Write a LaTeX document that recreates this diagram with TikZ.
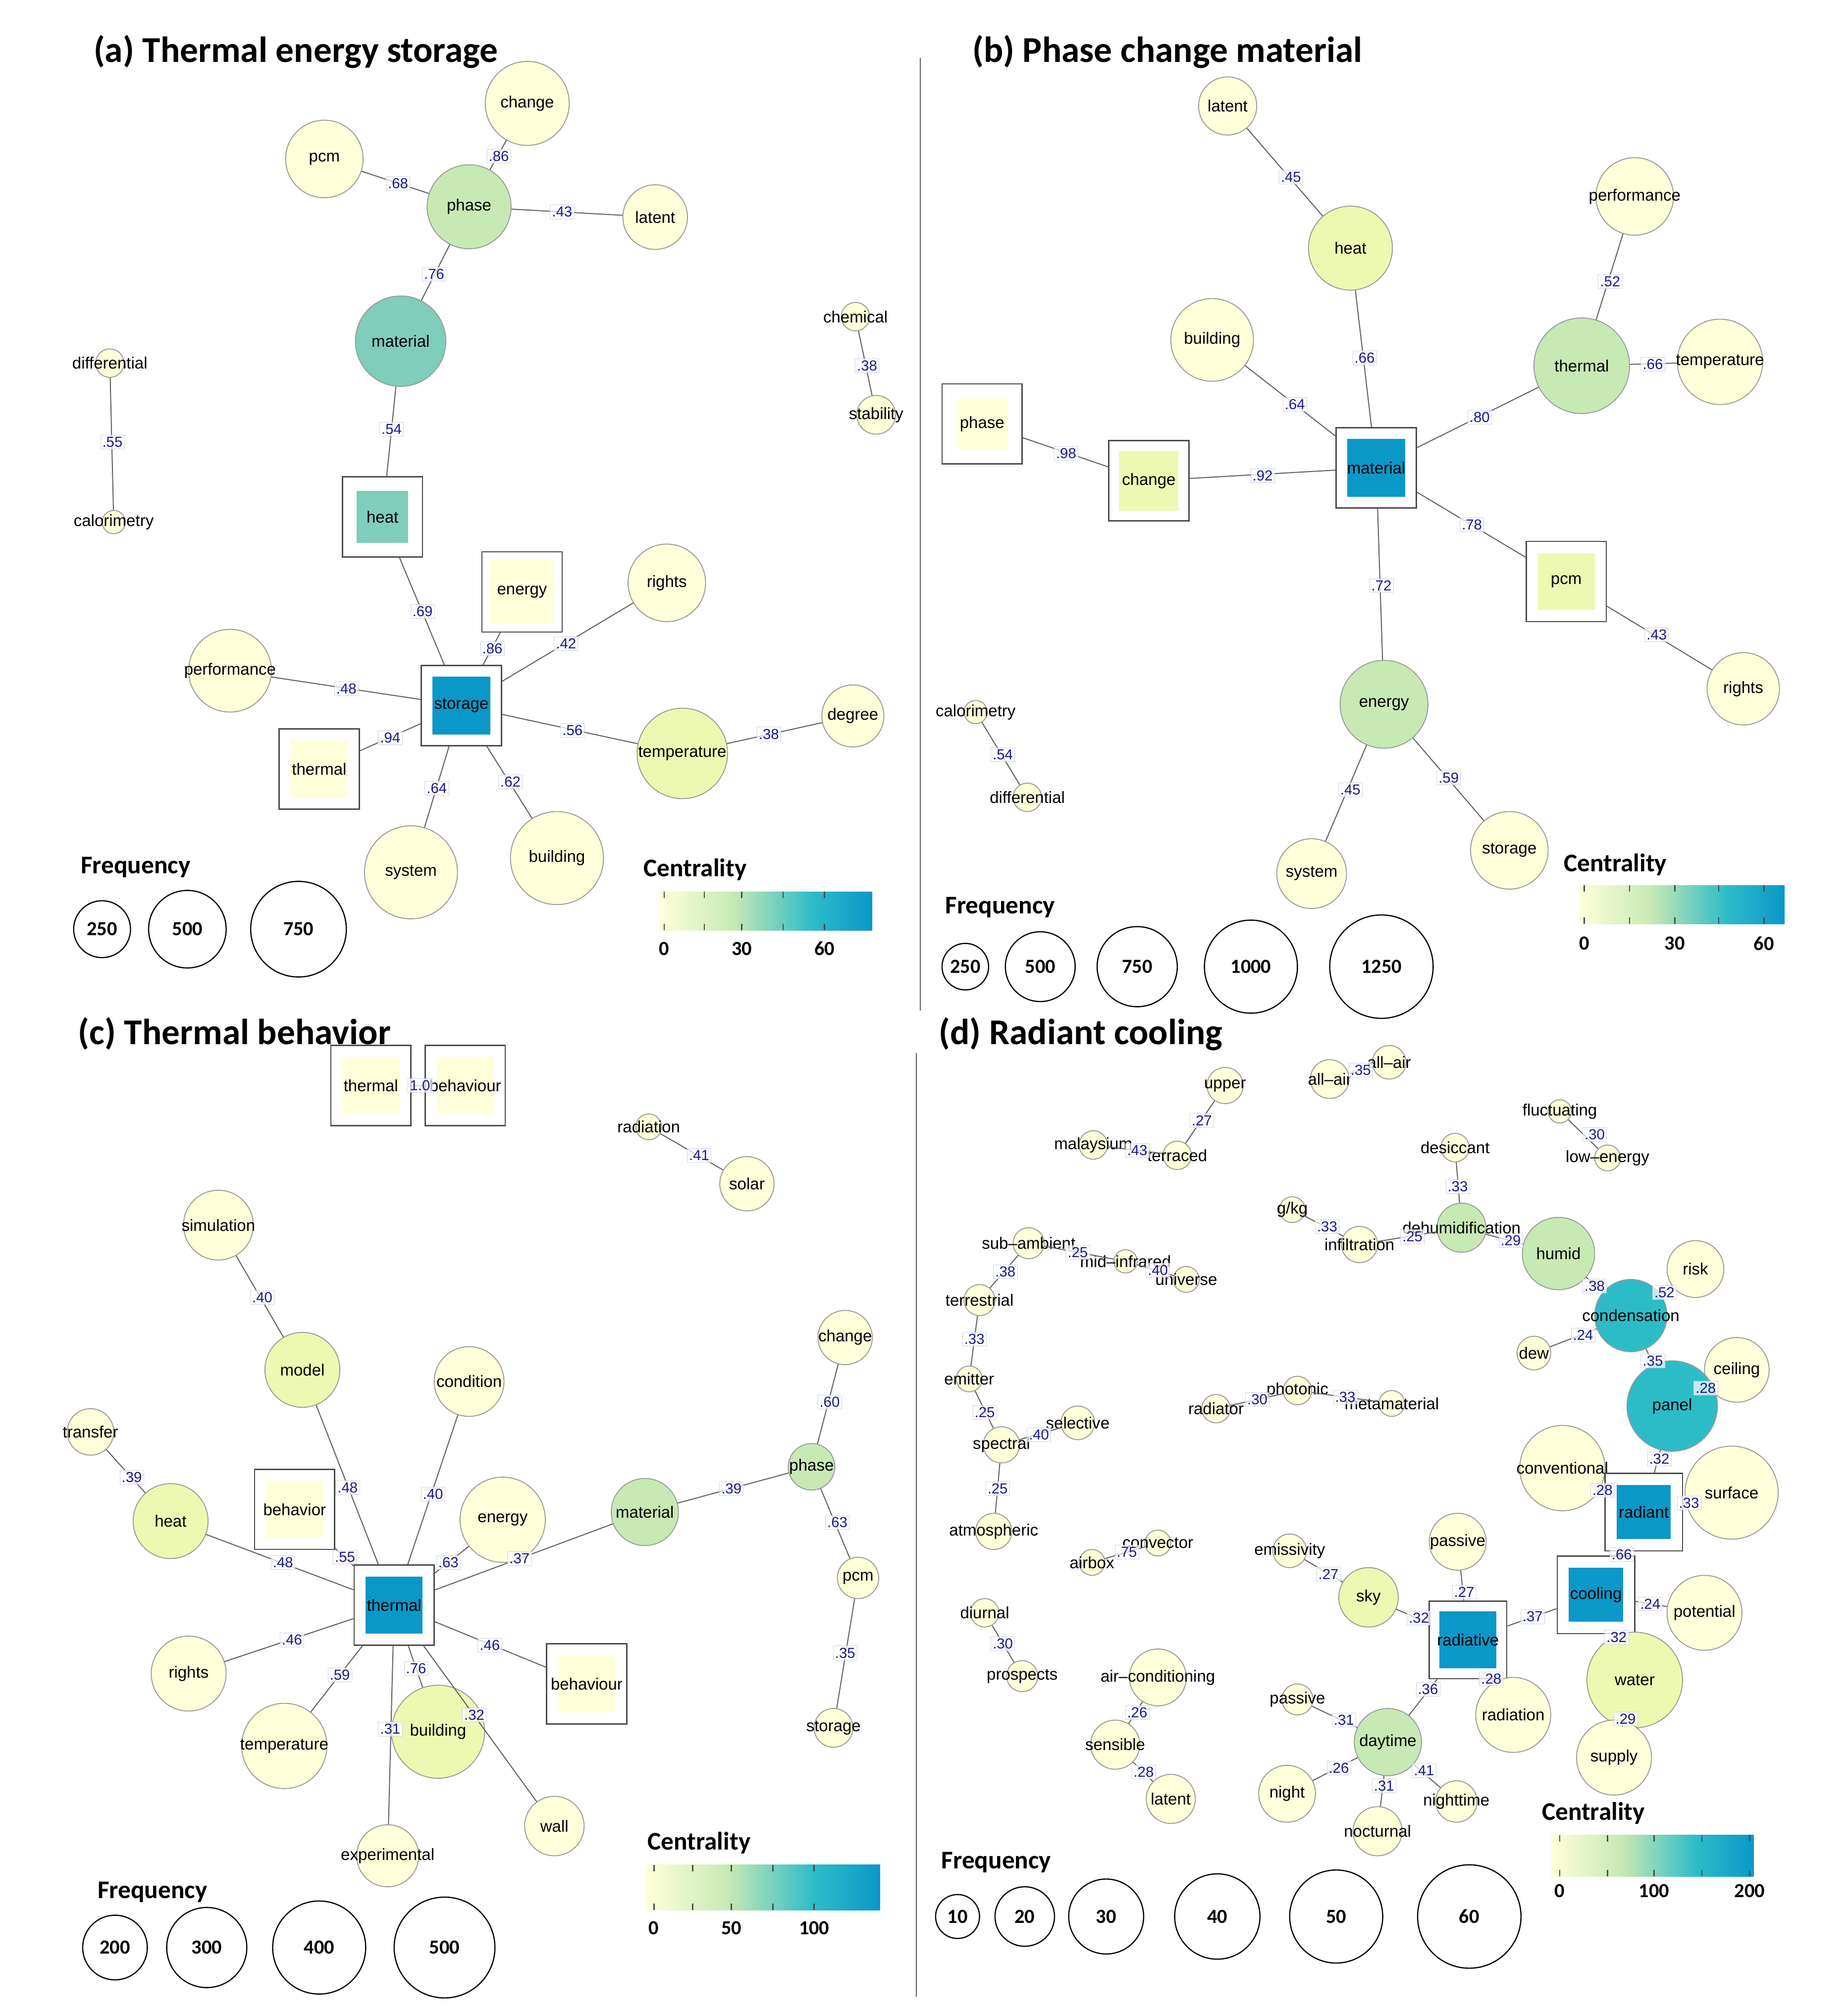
\documentclass[tikz,border=0pt]{standalone}
\usepackage{fontspec}
\setmainfont{Liberation Sans}
\newfontfamily\tfont{Carlito}
\definecolor{c0}{HTML}{FFFFD9}
\definecolor{c1}{HTML}{EDF8B1}
\definecolor{c2}{HTML}{C7E9B4}
\definecolor{c3}{HTML}{7FCDBB}
\definecolor{c4}{HTML}{2CBCC8}
\definecolor{c5}{HTML}{0A98C8}
\definecolor{navy}{HTML}{1A1A8C}
\tikzset{
 cn/.style={circle,draw=gray!80,line width=1pt,inner sep=0pt},
 lab/.style={font=\fontsize{18}{18}\selectfont,inner sep=0pt},
 elab/.style={draw=navy!20,fill=white,fill opacity=0.7,text opacity=1,font=\fontsize{16}{16}\selectfont,text=navy,inner sep=2pt},
 edge/.style={draw=gray!75!black,line width=1.1pt},
 sqo/.style={rectangle,draw=gray!60!black,line width=1.4pt,fill=white,inner sep=0pt},
 sqi/.style={rectangle,inner sep=0pt},
 ttl/.style={font=\tfont\bfseries\fontsize{40}{40}\selectfont,anchor=west},
 lgt/.style={font=\tfont\bfseries\fontsize{28}{28}\selectfont},
 lgn/.style={font=\tfont\bfseries\fontsize{22}{22}\selectfont},
 lgc/.style={circle,draw=black,line width=1.3pt,inner sep=0pt},
}
\newcommand\cnp[6]{\node[cn,minimum size=#4*0.05cm,fill=#5] (#1) at (#2,#3) {};\node[lab] at (#1) {#6};}
\newcommand\sqn[7]{\node[sqo,minimum size=#5*0.05cm] (#1) at (#2,#3) {};\node[sqi,fill=#6,minimum size=#4*0.05cm] at (#1) {};\node[lab] at (#1) {#7};}
\newcommand\el[3]{\node[elab] at (#1,#2) {#3};}
\newcommand\ed[2]{\draw[edge] (#1) -- (#2);}
\newcommand\cbar[5]{% x1 x2 y1 y2 ; #5 unused
 \pgfmathsetmacro\xa{#1+0.35*(#2-#1)}\pgfmathsetmacro\xb{#1+0.72*(#2-#1)}
 \shade[left color=c0,right color=c2] (#1,#3) rectangle (\xa,#4);
 \shade[left color=c2,right color=c4] (\xa,#3) rectangle (\xb,#4);
 \shade[left color=c4,right color=c5] (\xb,#3) rectangle (#2,#4);}
\begin{document}
\begin{tikzpicture}[x=0.05cm,y=-0.05cm]
\useasboundingbox (0,0) rectangle (1430,1560);
\fill[white] (0,0) rectangle (1430,1560);
\draw[gray!70!black,line width=1.2pt] (712,45) -- (712,782);
\draw[gray!70!black,line width=1.2pt] (709,815) -- (709,1545);
% ===== (a)
\node[ttl] at (70,40) {(a) Thermal energy storage};
\cnp{achange}{408}{80}{65}{c0}{change}
\cnp{apcm}{251}{123}{60}{c0}{pcm}
\cnp{aphase}{363}{160}{65}{c2}{phase}
\cnp{alatent}{507}{168}{50}{c0}{latent}
\cnp{amaterial}{310}{264}{70}{c3}{material}
\cnp{achem}{662}{245}{22}{c0}{chemical}
\cnp{astab}{678}{321}{30}{c0}{stability}
\cnp{adiff}{85}{281}{22}{c0}{differential}
\cnp{acal}{88}{404}{18}{c0}{calorimetry}
\sqn{aheat}{296}{400}{40}{62}{c3}{heat}
\sqn{aenergy}{404}{458}{50}{62}{c0}{energy}
\cnp{arights}{516}{451}{60}{c0}{rights}
\cnp{aperf}{178}{519}{64}{c0}{performance}
\sqn{astorage}{357}{546}{45}{62}{c5}{storage}
\sqn{athermal}{247}{595}{45}{62}{c0}{thermal}
\cnp{atemp}{528}{583}{70}{c1}{temperature}
\cnp{adegree}{660}{554}{48}{c0}{degree}
\cnp{asystem}{318}{675}{72}{c0}{system}
\cnp{abuild}{431}{664}{72}{c0}{building}
\ed{apcm}{aphase}\ed{achange}{aphase}\ed{aphase}{alatent}\ed{aphase}{amaterial}
\ed{amaterial}{aheat}\ed{aheat}{astorage}\ed{aenergy}{astorage}\ed{arights}{astorage}
\ed{aperf}{astorage}\ed{athermal}{astorage}\ed{astorage}{atemp}\ed{atemp}{adegree}
\ed{astorage}{asystem}\ed{astorage}{abuild}\ed{achem}{astab}\ed{adiff}{acal}
\el{308}{142}{.68}\el{386}{121}{.86}\el{435}{164}{.43}\el{336}{212}{.76}
\el{303}{332}{.54}\el{327}{473}{.69}\el{381}{502}{.86}\el{438}{498}{.42}
\el{268}{533}{.48}\el{302}{571}{.94}\el{443}{565}{.56}\el{595}{568}{.38}
\el{338}{610}{.64}\el{395}{605}{.62}\el{671}{283}{.38}\el{87}{342}{.55}
\node[lgt] at (105,671) {Frequency};
\node[lgc,minimum size=44*0.05cm,lgn] at (79,719) {250};
\node[lgc,minimum size=60*0.05cm,lgn] at (145,719) {500};
\node[lgc,minimum size=74*0.05cm,lgn] at (231,719) {750};
\node[lgt] at (538,673) {Centrality};
\cbar{510}{675}{690}{720}{}
\foreach \t in {514,545,574,606,638}{\draw[gray!60!black,line width=1.5pt] (\t,690)--(\t,695) (\t,715)--(\t,720);}
\node[lgn] at (514,734) {0};\node[lgn] at (574,734) {30};\node[lgn] at (638,734) {60};
% ===== (b)
\node[ttl] at (750,40) {(b) Phase change material};
\cnp{blatent}{950}{82}{45}{c0}{latent}
\cnp{bheat}{1045}{192}{65}{c1}{heat}
\cnp{bperf}{1265}{152}{60}{c0}{performance}
\cnp{bbuild}{938}{263}{64}{c0}{building}
\cnp{bthermal}{1224}{283}{74}{c2}{thermal}
\cnp{btemp}{1331}{280}{66}{c0}{temperature}
\sqn{bphase}{760}{328}{40}{62}{c0}{phase}
\sqn{bchange}{889}{372}{46}{62}{c1}{change}
\sqn{bmaterial}{1065}{362}{45}{62}{c5}{material}
\sqn{bpcm}{1212}{450}{44}{62}{c1}{pcm}
\cnp{brights}{1349}{533}{56}{c0}{rights}
\cnp{bcal}{755}{551}{18}{c0}{calorimetry}
\cnp{bdiff}{795}{617}{22}{c0}{differential}
\cnp{benergy}{1071}{545}{68}{c2}{energy}
\cnp{bsystem}{1015}{676}{54}{c0}{system}
\cnp{bstorage}{1168}{658}{60}{c0}{storage}
\ed{blatent}{bheat}\ed{bheat}{bmaterial}\ed{bbuild}{bmaterial}\ed{bthermal}{bmaterial}
\ed{bperf}{bthermal}\ed{bthermal}{btemp}\ed{bphase}{bchange}\ed{bchange}{bmaterial}
\ed{bmaterial}{bpcm}\ed{bpcm}{brights}\ed{bmaterial}{benergy}\ed{benergy}{bsystem}
\ed{benergy}{bstorage}\ed{bcal}{bdiff}
\el{999}{137}{.45}\el{1056}{277}{.66}\el{1002}{313}{.64}\el{1145}{323}{.80}
\el{1246}{218}{.52}\el{1279}{282}{.66}\el{825}{351}{.98}\el{977}{368}{.92}
\el{1139}{406}{.78}\el{1282}{491}{.43}\el{1069}{453}{.72}\el{1045}{611}{.45}
\el{1121}{602}{.59}\el{776}{584}{.54}
\node[lgt] at (774,702) {Frequency};
\node[lgc,minimum size=36*0.05cm,lgn] at (747,748) {250};
\node[lgc,minimum size=54*0.05cm,lgn] at (805,748) {500};
\node[lgc,minimum size=62*0.05cm,lgn] at (880,748) {750};
\node[lgc,minimum size=72*0.05cm,lgn] at (968,748) {1000};
\node[lgc,minimum size=80*0.05cm,lgn] at (1069,748) {1250};
\node[lgt] at (1250,669) {Centrality};
\cbar{1222}{1381}{685}{715}{}
\foreach \t in {1226,1261,1296,1330,1365}{\draw[gray!60!black,line width=1.5pt] (\t,685)--(\t,690) (\t,710)--(\t,715);}
\node[lgn] at (1226,730) {0};\node[lgn] at (1296,730) {30};\node[lgn] at (1365,730) {60};
% ===== (c)
\node[ttl] at (58,800) {(c) Thermal behavior};
\sqn{cth1}{287}{840}{44}{62}{c0}{thermal}
\sqn{cbeh1}{360}{840}{44}{62}{c0}{behaviour}
\cnp{crad}{502}{872}{20}{c0}{radiation}
\cnp{csolar}{578}{916}{42}{c0}{solar}
\cnp{csim}{169}{948}{54}{c0}{simulation}
\cnp{cmodel}{234}{1060}{58}{c1}{model}
\cnp{ccond}{363}{1069}{54}{c0}{condition}
\cnp{cchange}{654}{1035}{42}{c0}{change}
\cnp{cphase}{628}{1135}{36}{c2}{phase}
\cnp{ctrans}{70}{1108}{36}{c0}{transfer}
\cnp{cheat}{132}{1177}{58}{c1}{heat}
\sqn{cbehav}{228}{1168}{44}{62}{c0}{behavior}
\cnp{cenergy}{389}{1176}{66}{c0}{energy}
\cnp{cmat}{499}{1170}{52}{c2}{material}
\cnp{cpcm}{664}{1221}{32}{c0}{pcm}
\sqn{cthermal}{305}{1242}{44}{62}{c5}{thermal}
\sqn{cbeh2}{454}{1303}{44}{62}{c0}{behaviour}
\cnp{crights}{146}{1295}{58}{c0}{rights}
\cnp{ctemp}{220}{1351}{66}{c0}{temperature}
\cnp{cbuild}{339}{1340}{72}{c1}{building}
\cnp{cwall}{429}{1413}{46}{c0}{wall}
\cnp{cexp}{300}{1436}{48}{c0}{experimental}
\cnp{cstor}{645}{1337}{30}{c0}{storage}
\ed{cth1}{cbeh1}\ed{crad}{csolar}\ed{csim}{cmodel}\ed{cchange}{cphase}\ed{ctrans}{cheat}
\ed{cphase}{cpcm}\ed{cpcm}{cstor}\ed{cmat}{cphase}
\ed{cthermal}{cmodel}\ed{cthermal}{ccond}\ed{cthermal}{cheat}\ed{cthermal}{cbehav}
\ed{cthermal}{cenergy}\ed{cthermal}{cmat}\ed{cthermal}{cbeh2}\ed{cthermal}{crights}
\ed{cthermal}{ctemp}\ed{cthermal}{cbuild}\ed{cthermal}{cexp}\ed{cthermal}{cwall}
\el{325}{840}{1.0}\el{541}{894}{.41}\el{203}{1004}{.40}\el{642}{1085}{.60}
\el{102}{1143}{.39}\el{648}{1178}{.63}\el{654}{1279}{.35}\el{566}{1152}{.39}
\el{269}{1151}{.48}\el{335}{1156}{.40}\el{219}{1209}{.48}\el{267}{1205}{.55}
\el{347}{1209}{.63}\el{402}{1206}{.37}\el{379}{1273}{.46}\el{226}{1269}{.46}
\el{263}{1296}{.59}\el{322}{1291}{.76}\el{302}{1338}{.31}\el{367}{1327}{.32}
\node[lgt] at (118,1464) {Frequency};
\node[lgc,minimum size=50*0.05cm,lgn] at (89,1507) {200};
\node[lgc,minimum size=62*0.05cm,lgn] at (160,1507) {300};
\node[lgc,minimum size=72*0.05cm,lgn] at (247,1507) {400};
\node[lgc,minimum size=78*0.05cm,lgn] at (344,1507) {500};
\node[lgt] at (541,1426) {Centrality};
\cbar{500}{681}{1443}{1478}{}
\foreach \t in {506,536,566,598,630}{\draw[gray!60!black,line width=1.5pt] (\t,1443)--(\t,1448) (\t,1473)--(\t,1478);}
\node[lgn] at (506,1492) {0};\node[lgn] at (566,1492) {50};\node[lgn] at (630,1492) {100};
% ===== (d)
\node[ttl] at (724,800) {(d) Radiant cooling};
\cnp{dupper}{948}{840}{28}{c0}{upper}
\cnp{dterr}{911}{894}{22}{c0}{terraced}
\cnp{dmal}{846}{886}{22}{c0}{malaysium}
\cnp{dall}{1029}{835}{30}{c0}{all--air}
\cnp{dallb}{1075}{822}{26}{c0}{all--air}
\cnp{dfluc}{1207}{860}{18}{c0}{fluctuating}
\cnp{dlow}{1244}{896}{20}{c0}{low--energy}
\cnp{ddes}{1126}{888}{22}{c0}{desiccant}
\cnp{ddeh}{1131}{950}{38}{c2}{dehumidification}
\cnp{dgkg}{1000}{936}{20}{c0}{g/kg}
\cnp{dinf}{1052}{963}{28}{c0}{infiltration}
\cnp{dhumid}{1206}{970}{56}{c2}{humid}
\cnp{dsub}{796}{962}{24}{c0}{sub--ambient}
\cnp{dmid}{871}{976}{18}{c0}{mid--infrared}
\cnp{duni}{918}{990}{20}{c0}{universe}
\cnp{dterrest}{758}{1006}{24}{c0}{terrestrial}
\cnp{drisk}{1312}{982}{44}{c0}{risk}
\cnp{dcond}{1262}{1018}{56}{c4}{condensation}
\cnp{ddew}{1187}{1047}{26}{c0}{dew}
\cnp{dceil}{1344}{1060}{50}{c0}{ceiling}
\cnp{dpanel}{1294}{1088}{70}{c4}{panel}
\cnp{demit}{750}{1067}{20}{c0}{emitter}
\cnp{dphot}{1004}{1076}{22}{c0}{photonic}
\cnp{dmeta}{1077}{1086}{20}{c0}{metamaterial}
\cnp{dradtr}{941}{1090}{22}{c0}{radiator}
\cnp{dsel}{834}{1101}{26}{c0}{selective}
\cnp{dspec}{775}{1118}{28}{c0}{spectral}
\cnp{dconv}{1209}{1136}{66}{c0}{conventional}
\cnp{dsurf}{1340}{1155}{72}{c0}{surface}
\sqn{drad}{1272}{1170}{42}{60}{c5}{radiant}
\cnp{datm}{769}{1185}{28}{c0}{atmospheric}
\cnp{dconvec}{896}{1194}{20}{c0}{convector}
\cnp{dairbox}{845}{1209}{20}{c0}{airbox}
\cnp{demis}{998}{1200}{26}{c0}{emissivity}
\cnp{dsky}{1059}{1236}{46}{c1}{sky}
\cnp{dpass}{1128}{1193}{44}{c0}{passive}
\sqn{dcool}{1235}{1234}{42}{60}{c5}{cooling}
\cnp{dpot}{1319}{1248}{58}{c0}{potential}
\sqn{dradv}{1136}{1269}{44}{60}{c5}{radiative}
\cnp{dradn}{1171}{1327}{58}{c0}{radiation}
\cnp{dwater}{1265}{1300}{74}{c1}{water}
\cnp{dsupply}{1249}{1360}{58}{c0}{supply}
\cnp{ddiur}{762}{1248}{22}{c0}{diurnal}
\cnp{dpros}{791}{1297}{24}{c0}{prospects}
\cnp{dac}{896}{1298}{44}{c0}{air--conditioning}
\cnp{dsens}{863}{1350}{38}{c0}{sensible}
\cnp{dlat}{906}{1392}{38}{c0}{latent}
\cnp{dpass2}{1004}{1315}{24}{c0}{passive}
\cnp{dday}{1074}{1348}{52}{c2}{daytime}
\cnp{dnight}{996}{1388}{44}{c0}{night}
\cnp{dnoct}{1066}{1417}{38}{c0}{nocturnal}
\cnp{dnightt}{1127}{1394}{32}{c0}{nighttime}
\ed{dradv}{dsky}\ed{dradv}{dpass}\ed{dradv}{dcool}\ed{dradv}{dradn}\ed{dradv}{dday}
\ed{dcool}{drad}\ed{dcool}{dpot}\ed{dcool}{dwater}\ed{dwater}{dsupply}
\ed{drad}{dpanel}\ed{drad}{dconv}\ed{drad}{dsurf}\ed{dpanel}{dcond}\ed{dpanel}{dceil}
\ed{dcond}{dhumid}\ed{dcond}{drisk}\ed{dcond}{ddew}\ed{dhumid}{ddeh}\ed{ddeh}{dinf}
\ed{ddeh}{ddes}\ed{dinf}{dgkg}\ed{dday}{dpass2}\ed{dday}{dnight}\ed{dday}{dnightt}
\ed{dday}{dnoct}\ed{demis}{dsky}\ed{dac}{dsens}\ed{dsens}{dlat}\ed{ddiur}{dpros}
\ed{dairbox}{dconvec}\ed{dradtr}{dphot}\ed{dphot}{dmeta}\ed{dspec}{datm}\ed{dspec}{dsel}
\ed{demit}{dspec}\ed{dterrest}{demit}\ed{dsub}{dterrest}\ed{dsub}{dmid}\ed{dmid}{duni}
\ed{dmal}{dterr}\ed{dterr}{dupper}\ed{dall}{dallb}\ed{dfluc}{dlow}
\el{930}{867}{.27}\el{880}{890}{.43}\el{1053}{828}{.35}\el{1234}{878}{.30}
\el{1128}{918}{.33}\el{1027}{949}{.33}\el{1093}{957}{.25}\el{1169}{960}{.29}
\el{834}{969}{.25}\el{896}{983}{.40}\el{778}{984}{.38}\el{1234}{995}{.38}
\el{1288}{1000}{.52}\el{1225}{1033}{.24}\el{1279}{1053}{.35}\el{1320}{1074}{.28}
\el{754}{1036}{.33}\el{973}{1083}{.30}\el{1041}{1081}{.33}\el{762}{1093}{.25}
\el{804}{1110}{.40}\el{1284}{1129}{.32}\el{1240}{1153}{.28}\el{1307}{1163}{.33}
\el{772}{1152}{.25}\el{872}{1201}{.75}\el{1028}{1218}{.27}\el{1255}{1203}{.66}
\el{1277}{1241}{.24}\el{1251}{1267}{.32}\el{1133}{1232}{.27}\el{1098}{1252}{.32}
\el{1186}{1251}{.37}\el{1154}{1299}{.28}\el{1258}{1330}{.29}\el{776}{1272}{.30}
\el{880}{1325}{.26}\el{885}{1371}{.28}\el{1105}{1307}{.36}\el{1040}{1331}{.31}
\el{1036}{1368}{.26}\el{1102}{1370}{.41}\el{1071}{1382}{.31}
\node[lgt] at (771,1441) {Frequency};
\node[lgc,minimum size=34*0.05cm,lgn] at (741,1483) {10};
\node[lgc,minimum size=46*0.05cm,lgn] at (793,1483) {20};
\node[lgc,minimum size=58*0.05cm,lgn] at (856,1483) {30};
\node[lgc,minimum size=66*0.05cm,lgn] at (942,1483) {40};
\node[lgc,minimum size=72*0.05cm,lgn] at (1034,1483) {50};
\node[lgc,minimum size=80*0.05cm,lgn] at (1137,1483) {60};
\node[lgt] at (1233,1403) {Centrality};
\cbar{1200}{1357}{1420}{1452}{}
\foreach \t in {1207,1244,1280,1317,1354}{\draw[gray!60!black,line width=1.5pt] (\t,1420)--(\t,1425) (\t,1447)--(\t,1452);}
\node[lgn] at (1207,1463) {0};\node[lgn] at (1280,1463) {100};\node[lgn] at (1354,1463) {200};
\end{tikzpicture}
\end{document}
